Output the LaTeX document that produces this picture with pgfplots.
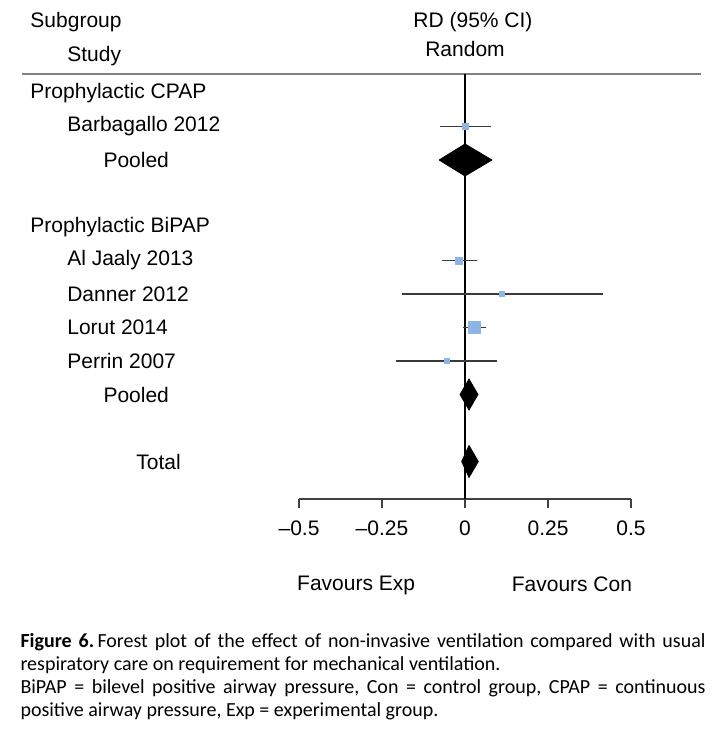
\documentclass[border=0pt]{standalone}
\usepackage{fontspec}
\setmainfont{Liberation Sans}
\newfontfamily\capfont{Carlito}
\usepackage{pgfplots}
\pgfplotsset{compat=1.18}
\definecolor{ptblue}{HTML}{8DB4E2}
\definecolor{cigray}{HTML}{3A3A3A}
\definecolor{rulegray}{HTML}{808080}
\frenchspacing
\begin{document}
\begin{tikzpicture}[font=\fontsize{10.5}{12.6}\selectfont]
\begin{axis}[
  scale only axis, width=166pt, height=212.5pt,
  xmin=-0.5, xmax=0.5, ymin=-13.12, ymax=-0.433,
  axis x line=bottom, axis y line=none,
  axis line style={-, line width=1pt, color=black!75},
  xtick={-0.5,-0.25,0,0.25,0.5},
  xticklabels={\textendash0.5,\textendash0.25,0,0.25,0.5},
  tick style={line width=1pt, color=black!75},
  tick align=outside, major tick length=4.5pt,
  xticklabel style={yshift=-2.75pt},
  clip=false,
]
% bounding box of the whole figure
\path (axis cs:-1.4006,1.776) rectangle (axis cs:0.7681,-20.791);
% header rule
\draw[rulegray, line width=1pt] (axis cs:-1.334,-0.433) -- (axis cs:0.711,-0.433);
% null line
\addplot[black, line width=0.9pt] coordinates {(0,-0.433) (0,-13.12)};

% confidence intervals
\addplot[cigray, line width=0.95pt] coordinates {(-0.075,-2) (0.078,-2)};
\addplot[cigray, line width=0.95pt] coordinates {(-0.069,-6) (0.036,-6)};
\addplot[cigray, line width=0.95pt] coordinates {(-0.190,-7) (0.416,-7)};
\addplot[cigray, line width=0.95pt] coordinates {(-0.005,-8) (0.063,-8)};
\addplot[cigray, line width=0.95pt] coordinates {(-0.207,-9) (0.096,-9)};

% point estimates
\addplot[only marks, mark=square*, mark size=1.5pt, mark options={draw=ptblue, fill=ptblue}] coordinates {(0.000,-2)};
\addplot[only marks, mark=square*, mark size=1.75pt, mark options={draw=ptblue, fill=ptblue}] coordinates {(-0.018,-6)};
\addplot[only marks, mark=square*, mark size=1.25pt, mark options={draw=ptblue, fill=ptblue}] coordinates {(0.111,-7)};
\addplot[only marks, mark=square*, mark size=3pt, mark options={draw=ptblue, fill=ptblue}] coordinates {(0.029,-8)};
\addplot[only marks, mark=square*, mark size=1.25pt, mark options={draw=ptblue, fill=ptblue}] coordinates {(-0.054,-9)};

% pooled diamonds
\addplot[fill=black, draw=black] coordinates {(-0.078,-3) (0.000,-2.522) (0.081,-3) (0.000,-3.478) (-0.078,-3)};
\addplot[fill=black, draw=black] coordinates {(-0.015,-10) (0.012,-9.537) (0.039,-10) (0.012,-10.463) (-0.015,-10)};
\addplot[fill=black, draw=black] coordinates {(-0.010,-12) (0.012,-11.522) (0.040,-12) (0.012,-12.478) (-0.010,-12)};

% header texts
\node[anchor=west, inner sep=0pt] at (axis cs:-1.310,1.119) {Subgroup};
\node[anchor=west, inner sep=0pt] at (axis cs:-1.199,0.104) {Study};
\node at (axis cs:0.024,1.119) {RD (95\% CI)};
\node at (axis cs:0,0.313) {Random};

% row labels
\begin{scope}[every node/.style={anchor=west, inner sep=0pt}]
\node at (axis cs:-1.310,-1) {Prophylactic CPAP};
\node at (axis cs:-1.199,-2) {Barbagallo 2012};
\node at (axis cs:-1.090,-3) {Pooled};
\node at (axis cs:-1.310,-5) {Prophylactic BiPAP};
\node at (axis cs:-1.199,-6) {Al Jaaly 2013};
\node at (axis cs:-1.199,-7) {Danner 2012};
\node at (axis cs:-1.199,-8) {Lorut 2014};
\node at (axis cs:-1.199,-9) {Perrin 2007};
\node at (axis cs:-1.090,-10) {Pooled};
\node at (axis cs:-0.991,-12) {Total};
\end{scope}

% favours
\node at (axis cs:-0.328,-15.687) {Favours Exp};
\node at (axis cs:0.322,-15.65) {Favours Con};

% caption
\node[anchor=north west, inner sep=0pt, text width=342.5pt, align=justify,
      font=\capfont\fontsize{10}{11.5}\selectfont] at (axis cs:-1.340,-17.119)
  {\textbf{Figure 6.}\,Forest plot of the effect of non-invasive ventilation compared with usual\linebreak respiratory care on requirement for mechanical ventilation.\par
   BiPAP = bilevel positive airway pressure, Con = control group, CPAP = continuous\linebreak positive airway pressure, Exp = experimental group.\par};
\end{axis}
\end{tikzpicture}
\end{document}
